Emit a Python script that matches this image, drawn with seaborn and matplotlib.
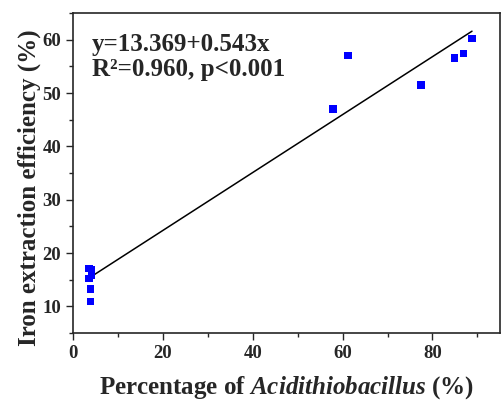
import numpy as np
import pandas as pd
import matplotlib.pyplot as plt
import seaborn as sns

sns.set_style('ticks')
plt.rcParams['font.family'] = ['Liberation Serif', 'DejaVu Serif']
plt.rcParams['font.weight'] = 'bold'
plt.rcParams['mathtext.fontset'] = 'custom'
plt.rcParams['mathtext.it'] = 'Liberation Serif:italic:bold'
plt.rcParams['mathtext.rm'] = 'Liberation Serif:bold'

# percentage of Acidithiobacillus vs iron extraction efficiency
acidithio = [3.6, 4.1, 4.1, 3.5, 3.9, 3.9, 57.8, 61.2, 77.5, 84.9, 86.9, 88.8]
iron_eff = [17.1, 16.8, 15.8, 15.2, 13.3, 10.9, 47.0, 57.0, 51.5, 56.6, 57.4, 60.2]
intercept = 13.369
slope = 0.543
df = pd.DataFrame({'x': acidithio, 'y': iron_eff})

fig = plt.figure(figsize=(5.01, 4.0), dpi=100)
ax = fig.add_axes([0.1457, 0.1675, 0.852, 0.80])

sns.scatterplot(data=df, x='x', y='y', ax=ax, marker='s', s=30,
                color='#0000FF', edgecolor='none', zorder=3)

xx = np.array([min(acidithio), max(acidithio)])
ax.plot(xx, intercept + slope * xx, color='black', lw=1.1, zorder=2)

ax.set_xlim(0, 95)
ax.set_ylim(5, 65)
ax.set_xticks([0, 20, 40, 60, 80])
ax.set_xticks(np.arange(10, 95, 20), minor=True)
ax.set_yticks([10, 20, 30, 40, 50, 60])
ax.set_yticks(np.arange(5, 66, 10), minor=True)
ax.tick_params(which='major', direction='out', length=5, width=1, labelsize=13.5)
ax.tick_params(which='minor', direction='out', length=3, width=1)
for s in ax.spines.values():
    s.set_visible(True)
    s.set_linewidth(1.2)
for lab in ax.get_xticklabels() + ax.get_yticklabels():
    lab.set_fontweight('bold')

ax.set_xlabel(r'Percentage of $\mathit{Acidithiobacillus}$ (%)', fontsize=18,
              fontweight='bold', labelpad=9)
ax.set_ylabel('Iron extraction efficiency (%)', fontsize=18, fontweight='bold')
ax.yaxis.set_label_coords(-0.075, 0.455)

ax.text(0.045, 0.9, 'y=13.369+0.543x', transform=ax.transAxes, fontsize=18,
        fontweight='bold', va='center')
ax.text(0.045, 0.823, 'R\u00b2=0.960, p<0.001', transform=ax.transAxes, fontsize=18,
        fontweight='bold', va='center')

fig.savefig('out.png', dpi=100)
